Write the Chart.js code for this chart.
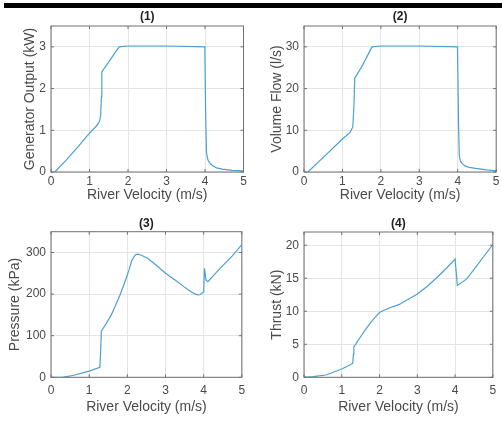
<!DOCTYPE html>
<html>
<head>
<meta charset="utf-8">
<script src="https://cdn.jsdelivr.net/npm/chart.js@4/dist/chart.umd.min.js"></script>
<style>
body { margin: 0; background: #fff; }
#wrap { position: relative; width: 502px; height: 423px; overflow: hidden; }
canvas { position: absolute; }
#bar { position: absolute; left: 4px; top: 3px; width: 498px; height: 5px; background: #000; z-index: 2; }
</style>
</head>
<body>
<div id="wrap">
  <div id="bar"></div>
  <canvas id="c1" width="251" height="211" style="left:0;top:0"></canvas>
  <canvas id="c2" width="251" height="211" style="left:251px;top:0"></canvas>
  <canvas id="c3" width="251" height="212" style="left:0;top:211px"></canvas>
  <canvas id="c4" width="251" height="212" style="left:251px;top:211px"></canvas>
</div>
<script>
// (1) generator output
var velocity1 = [0.1, 0.4, 0.7, 1.0, 1.2, 1.26, 1.29, 1.31, 1.32, 1.5, 1.77, 2.0, 3.0, 3.995, 4.02, 4.04, 4.08, 4.12, 4.2, 4.3, 4.45, 4.7, 5.0];
var output1 = [0, 0.29, 0.6, 0.93, 1.12, 1.22, 1.35, 1.8, 2.4, 2.64, 3.0, 3.02, 3.02, 3.0, 1.2, 0.45, 0.28, 0.22, 0.15, 0.1, 0.07, 0.04, 0.025];

// (2) volume flow
var velocity2 = [0.1, 0.4, 1.0, 1.2, 1.27, 1.3, 1.32, 1.5, 1.77, 2.0, 3.0, 3.995, 4.02, 4.04, 4.07, 4.12, 4.2, 4.3, 4.47, 4.75, 5.0];
var flow2 = [0, 2.6, 7.9, 9.5, 10.8, 16, 22.5, 25.2, 30, 30.2, 30.2, 30, 12, 4, 2.6, 2.0, 1.4, 1.1, 0.85, 0.5, 0.3];

// (3) pressure
var velocity3 = [0, 0.3, 0.6, 1.0, 1.28, 1.3, 1.32, 1.45, 1.58, 1.7, 1.8, 1.9, 1.97, 2.05, 2.11, 2.16, 2.22, 2.28, 2.35, 2.42, 2.53, 2.75, 3.0, 3.25, 3.48, 3.6, 3.7, 3.78, 3.85, 3.91, 4.0, 4.02, 4.06, 4.11, 4.43, 4.75, 5.0];
var pressure3 = [0, 0, 5, 15, 24, 60, 111, 130, 150, 175, 196, 220, 238, 260, 279, 288, 295, 296, 294, 291, 286, 270, 250, 234, 218, 210, 204, 200, 198, 199, 205, 262, 234, 230, 262, 292, 319];

// (4) thrust
var velocity4 = [0, 0.24, 0.58, 1.0, 1.29, 1.31, 1.32, 1.53, 1.65, 1.78, 1.9, 2.0, 2.13, 2.26, 2.51, 3.0, 3.25, 3.5, 3.75, 4.0, 4.06, 4.31, 5.0];
var thrust4 = [0, 0.1, 0.35, 1.25, 2.1, 3.5, 4.6, 6.4, 7.4, 8.4, 9.2, 9.8, 10.2, 10.5, 11.0, 12.6, 13.7, 15.0, 16.4, 17.9, 13.9, 14.9, 20.1];

var FONT = '"Liberation Sans", Arial, sans-serif';
var TEXT = '#4a4a4a';
var GRID = '#e4e4e4';
var AXIS = '#707070';
var LINE = '#4b9fd5';

// matlab style box with inward ticks and the panel title
var framePlugin = {
    id: 'frame',
    afterDraw: function (chart, args, o) {
        var a = chart.chartArea, ctx = chart.ctx;
        ctx.save();
        ctx.strokeStyle = AXIS;
        ctx.lineWidth = 1;
        ctx.strokeRect(a.left, a.top, a.right - a.left, a.bottom - a.top);
        ctx.beginPath();
        chart.scales.x.ticks.forEach(function (t) {
            var px = chart.scales.x.getPixelForValue(t.value);
            ctx.moveTo(px, a.bottom); ctx.lineTo(px, a.bottom - 3);
            ctx.moveTo(px, a.top); ctx.lineTo(px, a.top + 3);
        });
        chart.scales.y.ticks.forEach(function (t) {
            var py = chart.scales.y.getPixelForValue(t.value);
            ctx.moveTo(a.left, py); ctx.lineTo(a.left + 3, py);
            ctx.moveTo(a.right, py); ctx.lineTo(a.right - 3, py);
        });
        ctx.stroke();
        ctx.fillStyle = '#222';
        ctx.font = 'bold 12px ' + FONT;
        ctx.textAlign = 'center';
        ctx.textBaseline = 'middle';
        ctx.fillText(o.title, (a.left + a.right) / 2, o.titleY);
        ctx.restore();
    }
};

function makePanel(id, p) {
    new Chart(document.getElementById(id), {
        type: 'line',
        data: {
            datasets: [{
                data: p.xs.map(function (x, i) { return { x: x, y: p.ys[i] }; }),
                borderColor: LINE,
                borderWidth: 1.2,
                pointRadius: 0,
                fill: false,
                tension: 0
            }]
        },
        options: {
            responsive: false,
            animation: false,
            layout: { padding: { top: p.top, right: p.right, left: 0, bottom: 0 } },
            plugins: {
                legend: { display: false },
                tooltip: { enabled: false },
                frame: { title: p.title, titleY: p.titleY }
            },
            scales: {
                x: {
                    type: 'linear', min: 0, max: 5,
                    ticks: { stepSize: 1, padding: p.xTickPad, color: TEXT, font: { family: FONT, size: 12 } },
                    grid: { color: GRID, drawTicks: false },
                    border: { display: false },
                    title: { display: true, text: 'River Velocity (m/s)', color: TEXT,
                             font: { family: FONT, size: 14 }, padding: { top: 0, bottom: p.xTitlePad } },
                    afterFit: function (s) { s.height = p.xHeight; }
                },
                y: {
                    type: 'linear', min: 0, max: p.yMax,
                    ticks: { stepSize: p.yStep, includeBounds: false, padding: 5, color: TEXT, font: { family: FONT, size: 12 } },
                    grid: { color: GRID, drawTicks: false },
                    border: { display: false },
                    title: { display: true, text: p.yTitle, color: TEXT,
                             font: { family: FONT, size: 14 }, padding: { top: p.yTitlePad, bottom: 0 } },
                    afterFit: function (s) { s.width = p.yWidth; }
                }
            }
        },
        plugins: [framePlugin]
    });
}

makePanel('c1', { xs: velocity1, ys: output1, title: '(1)', titleY: 17, yTitle: 'Generator Output (kW)',
    yMax: 3.5, yStep: 1, top: 26, right: 7.5, yWidth: 51, xHeight: 39, xTickPad: 2.5, xTitlePad: 7.5, yTitlePad: 21.5 });
makePanel('c2', { xs: velocity2, ys: flow2, title: '(2)', titleY: 17, yTitle: 'Volume Flow (l/s)',
    yMax: 35, yStep: 10, top: 26, right: 4, yWidth: 53, xHeight: 39, xTickPad: 2.5, xTitlePad: 7.5, yTitlePad: 17.5 });
makePanel('c3', { xs: velocity3, ys: pressure3, title: '(3)', titleY: 13, yTitle: 'Pressure (kPa)',
    yMax: 350, yStep: 100, top: 20.7, right: 7.7, yWidth: 51, xHeight: 45.7, xTickPad: 5.8, xTitlePad: 7.6, yTitlePad: 7 });
makePanel('c4', { xs: velocity4, ys: thrust4, title: '(4)', titleY: 13, yTitle: 'Thrust (kN)',
    yMax: 22, yStep: 5, top: 21, right: 3.7, yWidth: 53, xHeight: 45.7, xTickPad: 5.8, xTitlePad: 7.6, yTitlePad: 17.5 });
</script>
</body>
</html>
